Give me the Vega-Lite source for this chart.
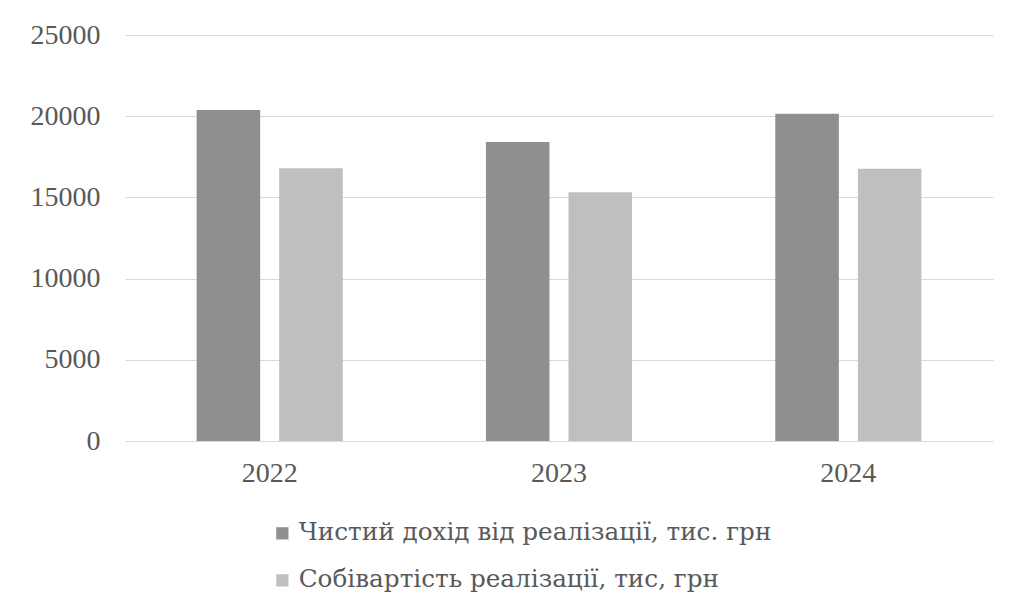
{
  "$schema": "https://vega.github.io/schema/vega-lite/v6.json",
  "width": 868,
  "height": 406,
  "autosize": {"type": "none"},
  "padding": {"left": 125, "top": 35, "right": 18, "bottom": 173},
  "background": "white",
  "data": {
    "values": [
      {"year": "2022", "series": "Чистий дохід від реалізації, тис. грн", "value": 20380},
      {"year": "2022", "series": "Собівартість реалізації, тис, грн", "value": 16790},
      {"year": "2023", "series": "Чистий дохід від реалізації, тис. грн", "value": 18410},
      {"year": "2023", "series": "Собівартість реалізації, тис, грн", "value": 15310},
      {"year": "2024", "series": "Чистий дохід від реалізації, тис. грн", "value": 20150},
      {"year": "2024", "series": "Собівартість реалізації, тис, грн", "value": 16770}
    ]
  },
  "mark": {"type": "bar"},
  "encoding": {
    "x": {
      "field": "year",
      "type": "nominal",
      "scale": {"paddingInner": 0.495, "paddingOuter": 0.2475},
      "axis": {
        "title": null,
        "labelAngle": 0,
        "ticks": false,
        "domainColor": "#d9d9d9",
        "labelPadding": 18
      }
    },
    "xOffset": {
      "field": "series",
      "type": "nominal",
      "sort": ["Чистий дохід від реалізації, тис. грн", "Собівартість реалізації, тис, грн"],
      "scale": {"paddingInner": 0.23, "paddingOuter": 0}
    },
    "y": {
      "field": "value",
      "type": "quantitative",
      "scale": {"domain": [0, 25000]},
      "axis": {
        "title": null,
        "values": [0, 5000, 10000, 15000, 20000, 25000],
        "format": "d",
        "ticks": false,
        "domain": false,
        "labelPadding": 25
      }
    },
    "color": {
      "field": "series",
      "type": "nominal",
      "sort": ["Чистий дохід від реалізації, тис. грн", "Собівартість реалізації, тис, грн"],
      "scale": {
        "domain": ["Чистий дохід від реалізації, тис. грн", "Собівартість реалізації, тис, грн"],
        "range": ["#8f8f8f", "#bfbfbf"]
      },
      "legend": {
        "title": null,
        "orient": "none",
        "direction": "vertical",
        "legendX": 145,
        "legendY": 486,
        "symbolType": "square",
        "symbolSize": 150,
        "symbolStrokeWidth": 0,
        "labelOffset": 4,
        "rowPadding": 21,
        "labelLimit": 700
      }
    }
  },
  "config": {
    "view": {"stroke": null},
    "axis": {
      "labelFont": "Liberation Serif",
      "labelFontSize": 28,
      "labelColor": "#595959",
      "gridColor": "#d9d9d9",
      "gridWidth": 1
    },
    "axisX": {"grid": false},
    "axisY": {"grid": true},
    "legend": {
      "labelFont": "DejaVu Serif",
      "labelFontSize": 24.7,
      "labelColor": "#595959"
    }
  }
}
